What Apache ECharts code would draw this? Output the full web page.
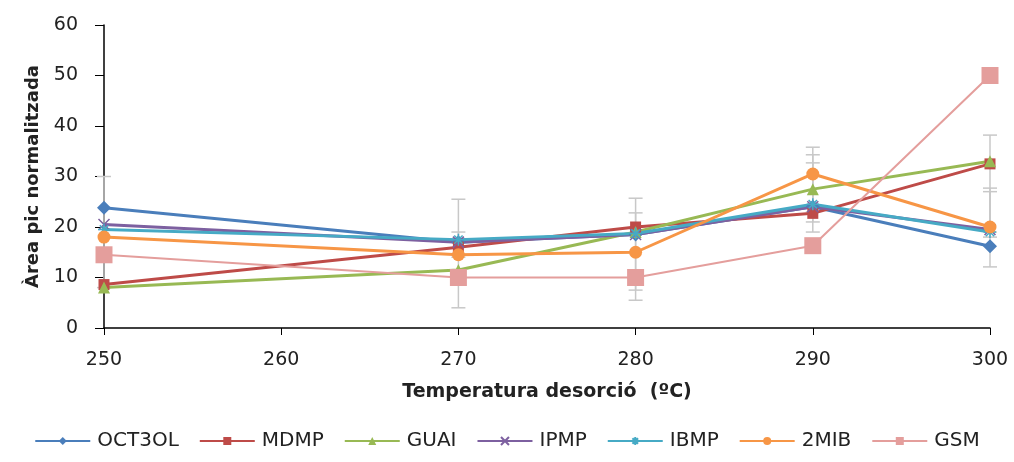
<!DOCTYPE html>
<html>
<head>
<meta charset="utf-8">
<script src="https://cdn.jsdelivr.net/npm/echarts@6/dist/echarts.min.js"></script>
<style>
  html, body { margin: 0; padding: 0; background: #fff; }
  #chart { width: 1014px; height: 462px; }
</style>
</head>
<body>
<div id="chart"></div>
<script>
// temperatures (ºC)
const temps = [250, 270, 280, 290, 300];

const oct3ol = [23.8, 17.0, 18.5, 24.0, 16.2];
const mdmp = [8.6, 16.0, 20.0, 22.7, 32.5];
const guai = [8.0, 11.5, 19.0, 27.5, 33.0];
const ipmp = [20.5, 17.0, 18.5, 24.0, 19.5];
const ibmp = [19.5, 17.5, 18.7, 24.5, 19.0];
const mib2 = [18.0, 14.5, 15.0, 30.5, 20.0];
const gsm = [14.5, 10.0, 10.0, 16.3, 50.0];

// error bars visible in the picture (x, low, high)
const errTemp = [250, 270, 270, 280, 280, 290, 290, 290, 300, 300, 300];
const errLow = [8, 4, 14, 5.5, 7.5, 19, 21, 23, 12.1, 18, 19];
const errHigh = [30, 25.5, 19, 25.7, 22.8, 35.8, 34.3, 32.7, 38.2, 27.7, 27];

const xTicks = [250, 260, 270, 280, 290, 300];

const crossPath = 'path://M0,0L10,10M10,0L0,10';
const starPath = 'path://M5,0L5,10M0,5L10,5M1.5,1.5L8.5,8.5M8.5,1.5L1.5,8.5';

function pairs(vals) {
    return temps.map(function (t, i) { return [t, vals[i]]; });
}

function lineSeries(name, vals, color, symbol, size, width, extra) {
    let s = {
        name: name,
        type: 'line',
        data: pairs(vals),
        symbol: symbol,
        symbolSize: size,
        showSymbol: true,
        lineStyle: { color: color, width: width },
        itemStyle: { color: color },
        emphasis: { disabled: true },
        z: 3
    };
    if (extra) Object.assign(s, extra);
    return s;
}

const errData = errTemp.map(function (t, i) { return [t, errLow[i], errHigh[i]]; });

let option = {
    animation: false,
    backgroundColor: '#fff',
    grid: { left: 104, right: 24, top: 25, bottom: 134 },
    legend: {
        top: 426,
        left: 'center',
        itemWidth: 55,
        itemHeight: 10,
        itemGap: 20,
        lineStyle: { width: 2 },
        textStyle: { fontFamily: 'DejaVu Sans', fontSize: 20, color: '#222', padding: [0, 0, 0, 2] },
        data: ['OCT3OL', 'MDMP', 'GUAI', 'IPMP', 'IBMP', '2MIB', 'GSM']
    },
    xAxis: {
        type: 'value',
        min: 250,
        max: 300,
        interval: 10,
        name: 'Temperatura desorció  (ºC)',
        nameLocation: 'middle',
        nameGap: 55,
        nameTextStyle: { fontFamily: 'DejaVu Sans', fontSize: 19, fontWeight: 'bold', color: '#222' },
        axisLine: { lineStyle: { color: '#000', width: 1.5 } },
        axisTick: { show: true, length: 7, lineStyle: { color: '#000' } },
        axisLabel: {
            margin: 23, fontFamily: 'DejaVu Sans', fontSize: 19, color: '#222',
            formatter: function (v) { return xTicks.indexOf(v) >= 0 ? String(v) : ''; }
        },
        splitLine: { show: false }
    },
    yAxis: {
        type: 'value',
        min: 0,
        max: 60,
        interval: 10,
        name: 'Àrea pic normalitzada',
        nameLocation: 'middle',
        nameGap: 62,
        nameRotate: 90,
        nameTextStyle: { fontFamily: 'DejaVu Sans', fontSize: 18, fontWeight: 'bold', color: '#222' },
        axisLine: { show: true, lineStyle: { color: '#000', width: 1.5 } },
        axisTick: { show: true, length: 9, lineStyle: { color: '#000' } },
        axisLabel: { margin: 26, fontFamily: 'DejaVu Sans', fontSize: 19, color: '#222' },
        splitLine: { show: false }
    },
    series: [
        {
            name: 'err',
            type: 'custom',
            data: errData,
            z: 1,
            silent: true,
            renderItem: function (params, api) {
                const x = api.coord([api.value(0), 0])[0];
                const lo = api.coord([api.value(0), api.value(1)])[1];
                const hi = api.coord([api.value(0), api.value(2)])[1];
                const st = { stroke: '#c8c8c8', lineWidth: 1.5 };
                return {
                    type: 'group',
                    children: [
                        { type: 'line', shape: { x1: x, y1: lo, x2: x, y2: hi }, style: st },
                        { type: 'line', shape: { x1: x - 7, y1: lo, x2: x + 7, y2: lo }, style: st },
                        { type: 'line', shape: { x1: x - 7, y1: hi, x2: x + 7, y2: hi }, style: st }
                    ]
                };
            }
        },
        lineSeries('OCT3OL', oct3ol, '#4A7EBB', 'diamond', 14, 3),
        lineSeries('MDMP', mdmp, '#BE4B48', 'rect', 11, 3),
        lineSeries('GUAI', guai, '#98B954', 'triangle', 12, 3),
        lineSeries('IPMP', ipmp, '#7D60A0', crossPath, 11, 3, {
            itemStyle: { color: '#7D60A0', borderColor: '#7D60A0', borderWidth: 1.5 }
        }),
        lineSeries('IBMP', ibmp, '#46AAC5', starPath, 12, 3, {
            itemStyle: { color: '#46AAC5', borderColor: '#46AAC5', borderWidth: 1.5 }
        }),
        lineSeries('2MIB', mib2, '#F79646', 'circle', 13, 3),
        lineSeries('GSM', gsm, '#E49E9C', 'rect', 17, 2)
    ]
};

let myChart = echarts.init(document.getElementById('chart'));
myChart.setOption(option, true);
</script>
</body>
</html>
